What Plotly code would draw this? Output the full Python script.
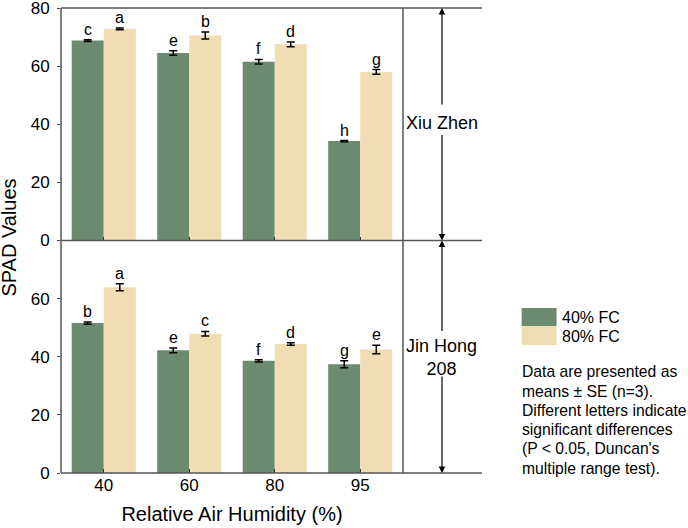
import plotly.graph_objects as go
from plotly.subplots import make_subplots

categories = ["40", "60", "80", "95"]

xz_40fc = [68.8, 64.5, 61.5, 34.2]
xz_40fc_se = [0.3, 0.8, 0.8, 0.2]
xz_80fc = [72.8, 70.5, 67.5, 58.0]
xz_80fc_se = [0.3, 1.2, 0.8, 0.8]
xz_letters_40 = ["c", "e", "f", "h"]
xz_letters_80 = ["a", "b", "d", "g"]

jh_40fc = [51.6, 42.2, 38.6, 37.4]
jh_40fc_se = [0.4, 0.8, 0.4, 1.2]
jh_80fc = [63.9, 47.9, 44.4, 42.5]
jh_80fc_se = [1.2, 0.8, 0.4, 1.5]
jh_letters_40 = ["b", "e", "f", "g"]
jh_letters_80 = ["a", "c", "d", "e"]

series_names = ["40% FC", "80% FC"]
panel_names = ["Xiu Zhen", "Jin Hong<br>208"]
note_lines = ["Data are presented as",
              "means \u00b1 SE (n=3).",
              "Different letters indicate",
              "significant differences",
              "(P < 0.05, Duncan's",
              "multiple range test)."]

GREEN = "#6b8b70"
BEIGE = "#f0ddb4"
LINE = "#555555"
FONT = "Liberation Sans, Arial, sans-serif"

fig = make_subplots(rows=2, cols=1, shared_xaxes=True, vertical_spacing=0)

panels = [
    (1, xz_40fc, xz_40fc_se, xz_80fc, xz_80fc_se, xz_letters_40, xz_letters_80),
    (2, jh_40fc, jh_40fc_se, jh_80fc, jh_80fc_se, jh_letters_40, jh_letters_80),
]

for row, g, gse, b, bse, lg, lb in panels:
    for vals, se, color, name, off in [(g, gse, GREEN, series_names[0], 0), (b, bse, BEIGE, series_names[1], 1)]:
        fig.add_trace(go.Bar(
            x=categories, y=vals, name=name, marker=dict(color=color, line=dict(width=0)),
            error_y=dict(type="data", array=se, visible=True, color="black", thickness=1.5, width=4),
            offsetgroup=str(off), showlegend=False,
        ), row=row, col=1)

    yref = "y" if row == 1 else "y2"
    xref = "x" if row == 1 else "x2"
    for vals, se, letters, shift in [(g, gse, lg, -16), (b, bse, lb, 16)]:
        for i, (v, e, t) in enumerate(zip(vals, se, letters)):
            fig.add_annotation(x=i, y=v + e, xref=xref, yref=yref, text=t, showarrow=False,
                               xshift=shift, yshift=0, xanchor="center", yanchor="bottom",
                               font=dict(size=16, color="black", family=FONT))

fig.update_layout(
    width=688, height=528,
    margin=dict(l=61, r=285, t=8, b=55, autoexpand=False),
    paper_bgcolor="white", plot_bgcolor="white",
    barmode="group", bargap=0.25, bargroupgap=0,
    font=dict(family=FONT, size=17, color="black"),
)

for r in (1, 2):
    fig.update_xaxes(row=r, col=1, type="category", showline=False, showgrid=False, zeroline=False,
                     ticks="inside", ticklen=4, tickwidth=1.2, tickcolor="#333", automargin=False,
                     tickfont=dict(size=17), range=[-0.5, 3.5])
fig.update_xaxes(row=2, col=1, title=dict(text="Relative Air Humidity (%)", font=dict(size=20), standoff=12))

fig.update_yaxes(row=1, col=1, range=[0, 80], tickvals=[0, 20, 40, 60, 80], showgrid=False,
                 zeroline=False, showline=False, ticks="outside", ticklen=3, tickwidth=1.2,
                 tickcolor="#444", tickfont=dict(size=17), ticklabelstandoff=4,
                 ticklabeloverflow="allow", automargin=False)
fig.update_yaxes(row=2, col=1, range=[0, 80], tickvals=[0, 20, 40, 60], showgrid=False,
                 zeroline=False, showline=False, ticks="outside", ticklen=3, tickwidth=1.2,
                 tickcolor="#444", tickfont=dict(size=17), ticklabelstandoff=4,
                 ticklabeloverflow="allow", automargin=False)

# frame lines
shapes = [
    dict(type="line", xref="paper", yref="paper", x0=0, x1=1.231, y0=1, y1=1),
    dict(type="line", xref="paper", yref="paper", x0=0, x1=1.231, y0=0.5, y1=0.5),
    dict(type="line", xref="paper", yref="paper", x0=0, x1=1.231, y0=0, y1=0),
    dict(type="line", xref="paper", yref="paper", x0=0, x1=0, y0=0, y1=1),
    dict(type="line", xref="paper", yref="paper", x0=1, x1=1, y0=0, y1=1),
]
for s in shapes:
    s["line"] = dict(color=LINE, width=1.5)
    fig.add_shape(**s)

# strip labels with arrows
sx = 1.114
fig.add_annotation(x=sx, y=0.753, xref="paper", yref="paper", text=panel_names[0], showarrow=False,
                   xanchor="center", yanchor="middle",
                   font=dict(size=18, family=FONT, color="black"))
fig.add_annotation(x=sx, y=0.249, xref="paper", yref="paper", text=panel_names[1], showarrow=False,
                   xanchor="center", yanchor="middle",
                   font=dict(size=18, family=FONT, color="black"))
for y, ay in [(1, 98), (0.5, -107), (0.5, 92), (0, -98)]:
    fig.add_annotation(x=sx, y=y, xref="paper", yref="paper", text="", showarrow=True,
                       ax=0, ay=ay, arrowhead=2, arrowsize=1.1, arrowwidth=1.2,
                       arrowcolor="black", standoff=0)

# y-axis title
fig.add_annotation(x=-0.151, y=0.507, xref="paper", yref="paper", text="SPAD Values", textangle=-90,
                   showarrow=False, xanchor="center", yanchor="middle",
                   font=dict(size=20, family=FONT, color="black"))

# custom legend
def py(px):
    return (473 - px) / 465

for (p0, p1), col, name, tc in [((308, 326), GREEN, series_names[0], 317),
                                 ((326, 345), BEIGE, series_names[1], 336)]:
    fig.add_shape(type="rect", xref="paper", yref="paper", x0=1.347, x1=1.449, y0=py(p1), y1=py(p0),
                  fillcolor=col, line=dict(width=0))
    fig.add_annotation(x=1.46, y=py(tc), xref="paper", yref="paper", text=name, showarrow=False,
                       xanchor="left", yanchor="middle", font=dict(size=16, family=FONT, color="black"))

for k, line in enumerate(note_lines):
    fig.add_annotation(x=1.343, y=py(371.7 + k * 19.3), xref="paper", yref="paper", text=line,
                       showarrow=False, xanchor="left", yanchor="middle", align="left",
                       font=dict(size=15.7, family=FONT, color="black"))

fig.write_html("out.html")
